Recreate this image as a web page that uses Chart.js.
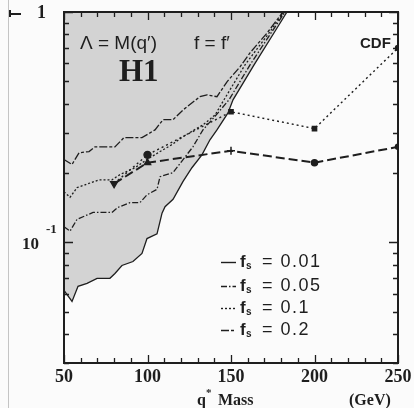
<!DOCTYPE html>
<html>
<head>
<meta charset="utf-8">
<script src="https://cdn.jsdelivr.net/npm/chart.js@4.4.0/dist/chart.umd.min.js"></script>
<style>
  html, body { margin:0; padding:0; background:#fbfbfb; }
  #wrap { position:relative; width:414px; height:408px; }
  canvas { display:block; }
</style>
</head>
<body>
<div id="wrap"><canvas id="c" width="414" height="408"></canvas></div>
<script>
// ---- data (q* mass in GeV, limit values) ----
// H1 curves
const h1MassFs02 = [50,54.8,59.0,65.0,68.6,80.5,85.9,96.7,104.5,109.3,115.3,121.3,131.4,135.6,141.6,147.6,155.4,161.4,171.6,181.1];
const h1LimFs02  = [0.229,0.218,0.245,0.248,0.260,0.260,0.285,0.285,0.308,0.341,0.341,0.376,0.429,0.437,0.429,0.498,0.578,0.665,0.811,1.0];

const h1MassFs01 = [50,53.6,57.8,62.6,71.0,78.7,83.5,92.5,99.7,107.5,114.7,121.3,133.2,140.4,145.8,158.4,172.8,181.7];
const h1LimFs01  = [0.166,0.157,0.173,0.178,0.187,0.187,0.197,0.211,0.229,0.248,0.266,0.288,0.324,0.357,0.416,0.590,0.811,1.0];

const h1MassFs005 = [50,53.6,57.8,67.4,78.7,82.3,89.5,95.5,99.7,105.7,107.5,115.3,121.3,127.2,133.2,142.2,148.8,161.4,174.0,182.3];
const h1LimFs005  = [0.117,0.112,0.126,0.135,0.135,0.142,0.149,0.149,0.161,0.170,0.193,0.201,0.229,0.260,0.308,0.365,0.416,0.590,0.811,1.0];

const h1MassFs001 = [50,54.8,58.4,63.8,69.8,77.5,80.5,84.7,91.3,96.7,99.7,105.7,108.7,110.5,115.3,121.3,126.6,132.6,137.4,141.6,148.2,151.2,158.4,163.8,175.7,183.5];
const h1LimFs001  = [0.062,0.0555,0.0645,0.0665,0.0699,0.0699,0.0734,0.0795,0.0827,0.0896,0.104,0.109,0.134,0.143,0.154,0.184,0.211,0.240,0.279,0.308,0.365,0.416,0.508,0.590,0.811,1.0];

// CDF curves
const cdfMass      = [80,100,150,200,250];
const cdfLimDotted = [0.180,0.240,0.369,0.312,0.698];
const cdfLimDashed = [0.180,0.222,0.250,0.222,0.260];

// axis ticks and labels
const xTickLabels = ['50','100','150','200','250'];
const yMinorTicks = [0.03,0.04,0.05,0.06,0.07,0.08,0.09,0.2,0.3,0.4,0.5,0.6,0.7,0.8,0.9];
const yMajorTicks = [0.1,1];
const legendValues = ['0.01','0.05','0.1','0.2'];

// ---- styles ----
const INK = '#1e1e1e';
const dashFs001 = [];
const dashFs005 = [6,2,1.5,2];
const dashFs01  = [2,2];
const dashFs02  = [8,2,3,2];

function pts(xs, ys){ return xs.map((v,i)=>({x:v, y:ys[i]})); }

const frame = {
  id:'frame',
  beforeDraw(chart){
    const ctx = chart.ctx;
    ctx.save();
    ctx.fillStyle = '#fbfbfb';
    ctx.fillRect(0,0,chart.width,chart.height);
    ctx.strokeStyle = '#c4c4c4'; ctx.lineWidth = 1;
    ctx.beginPath(); ctx.moveTo(8.5,0); ctx.lineTo(8.5,chart.height); ctx.stroke();
    ctx.restore();
  },
  afterDraw(chart){
    const {ctx, chartArea:a, scales:{x, y}} = chart;
    ctx.save();
    ctx.strokeStyle = INK; ctx.fillStyle = INK;
    // ticks
    ctx.lineWidth = 1.3;
    for (let m = 50; m <= 250; m += 10){
      const px = Math.round(x.getPixelForValue(m)) + 0.5;
      const len = (m % 50 === 0) ? 8 : 5;
      ctx.beginPath();
      ctx.moveTo(px, a.bottom); ctx.lineTo(px, a.bottom - len);
      ctx.moveTo(px, a.top); ctx.lineTo(px, a.top + len);
      ctx.stroke();
    }
    const yt = yMinorTicks.map(v=>[v,5]).concat(yMajorTicks.map(v=>[v,9]));
    yt.forEach(([v,len])=>{
      const py = Math.round(y.getPixelForValue(v)) + 0.5;
      ctx.beginPath();
      ctx.moveTo(a.left, py); ctx.lineTo(a.left + len, py);
      ctx.moveTo(a.right, py); ctx.lineTo(a.right - len, py);
      ctx.stroke();
    });
    // frame box
    ctx.lineWidth = 2;
    ctx.strokeRect(a.left, a.top, a.right - a.left, a.bottom - a.top);

    // x tick labels
    ctx.font = 'bold 18px "Liberation Serif"';
    ctx.textAlign = 'center'; ctx.textBaseline = 'middle';
    xTickLabels.forEach(t=>{
      ctx.fillText(t, x.getPixelForValue(Number(t)), a.bottom + 14);
    });
    // y tick labels
    ctx.textAlign = 'right';
    ctx.fillText('1', 46, y.getPixelForValue(1) + 1);
    ctx.font = 'bold 17px "Liberation Serif"';
    ctx.fillText('10', 39, y.getPixelForValue(0.1) + 2);
    ctx.font = 'bold 13px "Liberation Serif"';
    ctx.textAlign = 'left';
    ctx.fillText('-1', 46, y.getPixelForValue(0.1) - 13);
    // small mark at top-left
    ctx.lineWidth = 2;
    ctx.beginPath(); ctx.moveTo(10, 14); ctx.lineTo(21, 14); ctx.stroke();
    ctx.beginPath(); ctx.moveTo(10, 10); ctx.lineTo(10, 17); ctx.stroke();

    // axis title
    ctx.font = 'bold 16px "Liberation Serif"';
    ctx.textAlign = 'left'; ctx.textBaseline = 'alphabetic';
    ctx.fillText('q', 197, 405);
    ctx.font = 'bold 11px "Liberation Serif"';
    ctx.fillText('*', 206, 396);
    ctx.font = 'bold 16px "Liberation Serif"';
    ctx.fillText('Mass', 218, 405);
    ctx.fillText('(GeV)', 349, 405);

    // annotations
    ctx.font = '19px "Liberation Sans"';
    ctx.textBaseline = 'middle';
    ctx.fillText('\u039B = M(q\u2032)', 80, 44);
    ctx.fillText('f = f\u2032', 194, 44);
    ctx.font = 'bold 31px "Liberation Serif"';
    ctx.fillText('H1', 119, 73);
    ctx.font = 'bold 15px "Liberation Sans"';
    ctx.fillText('CDF', 360, 44);

    // legend
    const rows = [262, 286, 308, 330];
    const dashes = [dashFs001, dashFs005, dashFs01, dashFs02];
    legendValues.forEach((val, i)=>{
      const ry = rows[i];
      ctx.save();
      ctx.lineWidth = 1.4;
      ctx.setLineDash(dashes[i]);
      ctx.beginPath(); ctx.moveTo(221, ry + 0.5); ctx.lineTo(236, ry + 0.5); ctx.stroke();
      ctx.restore();
      ctx.textAlign = 'left'; ctx.textBaseline = 'middle';
      ctx.font = 'bold 17px "Liberation Sans"';
      ctx.fillText('f', 240, ry);
      ctx.font = 'bold 10px "Liberation Sans"';
      ctx.fillText('s', 246, ry + 4);
      ctx.font = '18px "Liberation Sans"';
      ctx.letterSpacing = '1.5px';
      ctx.fillText('= ' + val, 262, ry);
      ctx.letterSpacing = '0px';
    });
    ctx.restore();
  }
};

const lineBase = { showLine:true, pointRadius:0, borderColor:INK, borderWidth:1.3, tension:0, fill:false };

new Chart(document.getElementById('c'), {
  type:'scatter',
  data:{
    datasets:[
      Object.assign({}, lineBase, { label:'H1 fs=0.01', data:pts(h1MassFs001,h1LimFs001), borderDash:dashFs001,
        fill:'end', backgroundColor:'#d3d3d3' }),
      Object.assign({}, lineBase, { label:'H1 fs=0.05', data:pts(h1MassFs005,h1LimFs005), borderDash:dashFs005 }),
      Object.assign({}, lineBase, { label:'H1 fs=0.1', data:pts(h1MassFs01,h1LimFs01), borderDash:dashFs01 }),
      Object.assign({}, lineBase, { label:'H1 fs=0.2', data:pts(h1MassFs02,h1LimFs02), borderDash:dashFs02 }),
      Object.assign({}, lineBase, { label:'CDF dotted', data:pts(cdfMass,cdfLimDotted), borderDash:[2,3], borderWidth:1.4,
        pointRadius:[4,3.5,3,3,2.5], pointStyle:['triangle','circle','rect','rect','circle'], pointRotation:[180,0,0,0,0],
        pointBackgroundColor:INK, pointBorderColor:INK }),
      Object.assign({}, lineBase, { label:'CDF dashed', data:pts(cdfMass,cdfLimDashed), borderDash:[9,4], borderWidth:2,
        pointRadius:[0,3.5,4,3,2.5], pointStyle:['circle','triangle','cross','circle','circle'],
        pointBackgroundColor:INK, pointBorderColor:INK, pointBorderWidth:1.5 })
    ]
  },
  options:{
    responsive:false, animation:false,
    layout:{ padding:{ left:64, right:16, top:12, bottom:45 } },
    scales:{
      x:{ type:'linear', min:50, max:250, display:false },
      y:{ type:'logarithmic', min:0.03, max:1, display:false }
    },
    plugins:{
      legend:{ display:false }, tooltip:{ enabled:false },
      filler:{ drawTime:'beforeDatasetsDraw' }
    }
  },
  plugins:[frame]
});
</script>
</body>
</html>
